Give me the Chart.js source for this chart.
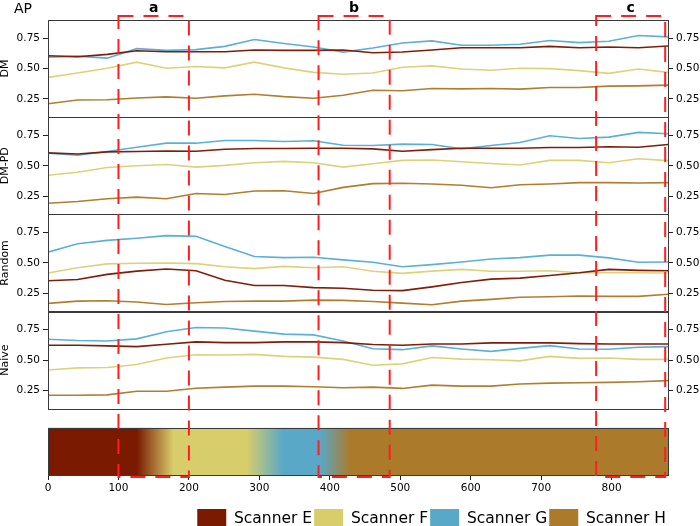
<!DOCTYPE html>
<html><head><meta charset="utf-8">
<script src="https://cdn.jsdelivr.net/npm/chart.js@4/dist/chart.umd.min.js"></script>
<style>html,body{margin:0;padding:0;background:#fff}#wrap{width:700px;height:526px;position:relative}</style>
</head><body><div id="wrap"><canvas id="c" width="700" height="526"></canvas></div>
<script>
// ---- data ----
const xPositions = [0,42,84,126,168,210,251,293,335,377,419,461,503,545,587,629,670,712,754,796,838,880];
const scannerNames = ['Scanner E','Scanner F','Scanner G','Scanner H'];
const methodNames = ['DM','DM-PD','Random','Naive'];

const dmE = [0.606,0.597,0.617,0.647,0.639,0.639,0.639,0.653,0.650,0.650,0.653,0.631,0.636,0.653,0.672,0.672,0.672,0.683,0.672,0.678,0.672,0.686];
const dmF = [0.428,0.464,0.503,0.553,0.503,0.517,0.506,0.553,0.506,0.469,0.453,0.464,0.511,0.522,0.497,0.486,0.503,0.500,0.483,0.461,0.497,0.469];
const dmG = [0.594,0.603,0.586,0.664,0.650,0.656,0.683,0.739,0.706,0.678,0.636,0.669,0.711,0.728,0.692,0.692,0.700,0.731,0.714,0.725,0.772,0.761];
const dmH = [0.211,0.242,0.244,0.258,0.267,0.256,0.275,0.289,0.269,0.256,0.281,0.322,0.317,0.336,0.333,0.336,0.331,0.344,0.344,0.356,0.358,0.364];

const pdE = [0.606,0.597,0.614,0.617,0.622,0.619,0.636,0.642,0.642,0.644,0.644,0.639,0.619,0.633,0.644,0.644,0.644,0.650,0.650,0.656,0.653,0.675];
const pdF = [0.422,0.447,0.486,0.500,0.511,0.489,0.503,0.525,0.536,0.525,0.489,0.517,0.544,0.547,0.533,0.519,0.506,0.544,0.544,0.525,0.558,0.542];
const pdG = [0.603,0.586,0.617,0.653,0.686,0.686,0.708,0.708,0.700,0.706,0.669,0.667,0.678,0.675,0.639,0.667,0.692,0.747,0.725,0.736,0.775,0.764];
const pdH = [0.192,0.206,0.228,0.242,0.228,0.272,0.264,0.292,0.294,0.272,0.322,0.353,0.356,0.350,0.339,0.319,0.344,0.350,0.361,0.361,0.358,0.361];

const rdE = [0.353,0.364,0.406,0.433,0.450,0.436,0.358,0.314,0.314,0.297,0.292,0.275,0.272,0.303,0.339,0.367,0.375,0.397,0.419,0.447,0.439,0.436];
const rdF = [0.417,0.461,0.492,0.497,0.500,0.494,0.469,0.453,0.472,0.461,0.469,0.431,0.414,0.433,0.447,0.431,0.431,0.436,0.419,0.419,0.419,0.417];
const rdG = [0.589,0.658,0.686,0.703,0.725,0.719,0.636,0.553,0.544,0.547,0.525,0.506,0.469,0.486,0.508,0.533,0.544,0.564,0.564,0.542,0.506,0.508];
const rdH = [0.167,0.186,0.189,0.178,0.158,0.172,0.183,0.186,0.186,0.194,0.192,0.183,0.169,0.156,0.186,0.200,0.217,0.222,0.228,0.225,0.225,0.242];

const nvE = [0.622,0.622,0.617,0.611,0.631,0.650,0.644,0.644,0.650,0.650,0.644,0.628,0.622,0.633,0.633,0.642,0.642,0.642,0.636,0.633,0.633,0.633];
const nvF = [0.419,0.436,0.439,0.464,0.517,0.544,0.542,0.547,0.531,0.525,0.506,0.458,0.469,0.522,0.508,0.503,0.494,0.531,0.514,0.517,0.506,0.506];
const nvG = [0.672,0.661,0.658,0.675,0.733,0.769,0.764,0.739,0.714,0.708,0.658,0.594,0.586,0.617,0.592,0.572,0.597,0.619,0.592,0.589,0.606,0.611];
const nvH = [0.211,0.211,0.214,0.244,0.244,0.269,0.278,0.286,0.286,0.281,0.272,0.278,0.267,0.294,0.286,0.286,0.303,0.311,0.314,0.317,0.322,0.331];

const yTicks = [0.25, 0.50, 0.75];
const xTicks = [0,100,200,300,400,500,600,700,800];

// scanner band along the x range (stop positions and scanner index at each stop)
const bandStops = [0,126,178,282,334,386,429,880];
const bandScanner = [0,0,1,1,2,2,3,3];

// highlighted regions
const regionStart = [100,384,778];
const regionEnd = [200,485,876];
const regionLabels = ['a','b','c'];

// ---- styling ----
const FONT = 'DejaVu Sans';
Chart.defaults.font.family = FONT;
Chart.defaults.color = '#000';
const lineColors = ['#7e1e0a','#ddd27a','#5ab0d6','#b07e2e'];
const boxColors = ['#7a1a00','#d8cd6b','#59a8c8','#ab7a2b'];

const panelSeries = [[dmE,dmF,dmG,dmH],[pdE,pdF,pdG,pdH],[rdE,rdF,rdG,rdH],[nvE,nvF,nvG,nvH]];

const datasets = [];
panelSeries.forEach((series, p) => {
  series.forEach((vals, s) => {
    datasets.push({
      type: 'line',
      label: methodNames[p] + ' ' + scannerNames[s],
      data: xPositions.map((x, i) => ({x: x, y: vals[i]})),
      xAxisID: 'x', yAxisID: 'y' + (p + 1),
      borderColor: lineColors[s], borderWidth: 1.6,
      pointRadius: 0, tension: 0, fill: false
    });
  });
});
datasets.push({
  type: 'bar', label: 'band', indexAxis: 'y', xAxisID: 'x', yAxisID: 'yc',
  data: [[xPositions[0], xPositions[xPositions.length - 1]]],
  barPercentage: 1, categoryPercentage: 1, borderWidth: 0,
  backgroundColor: (ctx) => {
    const chart = ctx.chart;
    const xs = chart.scales.x;
    if (!chart.chartArea || !xs) return boxColors[0];
    const x0 = xs.getPixelForValue(bandStops[0]);
    const x1 = xs.getPixelForValue(bandStops[bandStops.length - 1]);
    const g = chart.ctx.createLinearGradient(x0, 0, x1, 0);
    bandStops.forEach((v, i) => g.addColorStop((v - bandStops[0]) / (bandStops[bandStops.length - 1] - bandStops[0]), boxColors[bandScanner[i]]));
    return g;
  }
});

function panelAxis(pos, idx, title) {
  return {
    type: 'linear', axis: 'y', position: pos, stack: 'panels', stackWeight: 96.75,
    weight: pos === 'left' ? 10 - idx : idx + 1,
    min: 0.1, max: 0.9,
    afterBuildTicks: s => { s.ticks = yTicks.map(v => ({value: v})); },
    afterFit: s => { s.width = pos === 'left' ? 48 : 32; },
    ticks: { font: {size: 10.5}, padding: 3, color: '#000', callback: v => Number(v).toFixed(2) },
    grid: { drawOnChartArea: false, tickLength: 5, color: '#222', lineWidth: 1 },
    border: { display: false },
    title: pos === 'left' ? { display: true, text: title, font: {size: 11, lineHeight: 1}, padding: 0, color: '#000' } : { display: false }
  };
}
function hiddenAxis(pos, weight, stackWeight, extra) {
  return Object.assign({
    type: 'linear', axis: 'y', position: pos, stack: 'panels', stackWeight: stackWeight, weight: weight,
    min: 0, max: 1,
    afterFit: s => { s.width = pos === 'left' ? 48 : 32; },
    ticks: { display: false }, grid: { display: false }, border: { display: false }
  }, extra || {});
}

const scales = {
  x: {
    type: 'linear', position: 'bottom', min: 0, max: 880,
    afterBuildTicks: s => { s.ticks = xTicks.map(v => ({value: v})); },
    afterFit: s => { s.height = 32; },
    ticks: { font: {size: 10.5}, padding: 2, color: '#000', maxRotation: 0, autoSkip: false },
    grid: { drawOnChartArea: false, tickLength: 5, color: '#222' },
    border: { display: false }
  }
};
methodNames.forEach((m, i) => { scales['y' + (i + 1)] = panelAxis('left', i, m); });
scales.ys = hiddenAxis('left', 5, 19);
scales.yc = hiddenAxis('left', 4, 47, { type: 'category', labels: ['band'], offset: true, min: undefined, max: undefined });
methodNames.forEach((m, i) => { scales['yr' + (i + 1)] = panelAxis('right', i, m); });
scales.yrs = hiddenAxis('right', 5, 19);
scales.yrc = hiddenAxis('right', 6, 47);

const decor = {
  id: 'decor',
  afterDatasetsDraw(chart) {
    const ctx = chart.ctx, ca = chart.chartArea;
    ctx.save();
    ctx.strokeStyle = '#3a3a3a';
    ctx.lineWidth = 1;
    ['y1','y2','y3','y4','yc'].forEach(id => {
      const s = chart.scales[id];
      ctx.strokeRect(Math.round(ca.left) + 0.5, Math.round(s.top) + 0.5, Math.round(ca.right - ca.left), Math.round(s.bottom - s.top));
    });
    ctx.restore();
  },
  afterDraw(chart) {
    const ctx = chart.ctx, ca = chart.chartArea, xs = chart.scales.x;
    ctx.save();
    ctx.strokeStyle = '#ff1f1f';
    ctx.lineWidth = 2;
    ctx.setLineDash([15, 10]);
    const top = ca.top - 4, bottom = ca.bottom + 2;
    ctx.font = 'bold 14px "' + FONT + '"';
    ctx.fillStyle = '#000';
    ctx.textAlign = 'center';
    ctx.textBaseline = 'middle';
    regionStart.forEach((s, i) => {
      const x0 = xs.getPixelForValue(s), x1 = xs.getPixelForValue(regionEnd[i]);
      ctx.strokeRect(x0, top, x1 - x0, bottom - top);
      ctx.fillText(regionLabels[i], (x0 + x1) / 2, 8);
    });
    ctx.setLineDash([]);
    ctx.font = '14px "' + FONT + '"';
    ctx.textAlign = 'left';
    ctx.fillText('AP', 14, 9);
    ctx.restore();
  }
};

new Chart(document.getElementById('c'), {
  type: 'line',
  data: { datasets: datasets },
  options: {
    responsive: false, animation: false, devicePixelRatio: 1,
    layout: { padding: { top: 20, left: 0, right: 0, bottom: -13 }, autoPadding: false },
    scales: scales,
    plugins: {
      legend: {
        display: true, position: 'bottom', align: 'end', fullSize: false, onClick: null,
        labels: {
          boxWidth: 29, boxHeight: 20, padding: 2, color: '#000', font: {size: 15.5},
          generateLabels: () => scannerNames.map((t, i) => ({ text: t, fillStyle: boxColors[i], strokeStyle: boxColors[i], lineWidth: 0, hidden: false, datasetIndex: i }))
        }
      },
      tooltip: { enabled: false }
    }
  },
  plugins: [decor]
});
</script></body></html>
